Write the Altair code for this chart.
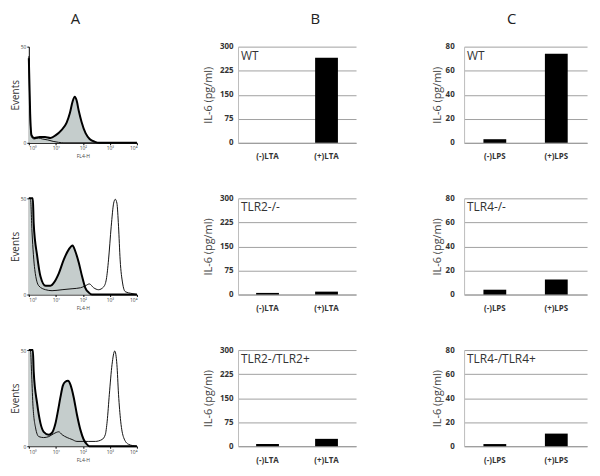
import altair as alt
import pandas as pd

# ---------------- data ----------------
headers = ["A", "B", "C"]

# Column A: flow cytometry histograms (x in decades, 10^0..10^4; y in % of full scale)
A1_fill_x = [0.0, 0.05, 0.1, 0.2, 0.4, 0.6, 0.8, 1.0, 1.2, 1.4, 1.52, 1.62, 1.7, 1.77, 1.85, 1.95, 2.1, 2.25, 2.45, 2.6, 4.0]
A1_fill_y = [88, 30, 8, 5, 6, 6, 5, 8, 13, 21, 31, 43, 48, 44, 33, 22, 10, 4, 1, 0, 0]
A1_open_x = [0.0, 0.05, 0.1, 0.2, 0.35, 0.5, 0.7, 0.9, 1.1, 1.3, 4.0]
A1_open_y = [90, 25, 6, 4, 5, 4, 3, 1.5, 0.5, 0, 0]

A2_fill_x = [0.0, 0.15, 0.18, 0.31, 0.43, 0.62, 0.8, 0.92, 1.11, 1.29, 1.48, 1.62, 1.72, 1.85, 1.97, 2.09, 2.22, 2.34, 4.0]
A2_fill_y = [100, 100, 74, 40, 19, 9, 9, 12, 22, 36, 47, 51, 45, 33, 19, 7, 2, 0, 0]
A2_open_x = [0.0, 0.06, 0.12, 0.22, 0.37, 0.62, 0.86, 1.23, 1.6, 1.91, 2.09, 2.24, 2.4, 2.58, 2.77, 2.87, 2.95, 3.05, 3.14, 3.2, 3.26, 3.32, 3.38, 3.47, 3.57, 3.82, 4.0]
A2_open_y = [100, 100, 64, 26, 9, 5, 4, 5, 6, 7, 9, 11, 7, 5, 8, 16, 36, 71, 95, 99, 95, 71, 36, 12, 3, 1, 0]

A3_fill_x = [0.0, 0.15, 0.18, 0.31, 0.43, 0.55, 0.74, 0.86, 0.98, 1.08, 1.17, 1.26, 1.35, 1.45, 1.54, 1.66, 1.78, 1.91, 2.03, 2.15, 2.24, 4.0]
A3_fill_y = [100, 100, 78, 44, 24, 15, 12, 14, 23, 37, 51, 63, 67, 68, 64, 51, 33, 17, 7, 2, 0, 0]
A3_open_x = [0.0, 0.06, 0.1, 0.15, 0.25, 0.37, 0.55, 0.74, 0.92, 1.11, 1.23, 1.42, 1.6, 1.78, 1.97, 2.22, 2.46, 2.71, 2.83, 2.9, 2.98, 3.08, 3.18, 3.26, 3.32, 3.4, 3.51, 3.69, 4.0]
A3_open_y = [100, 100, 78, 44, 19, 10, 9, 10, 13, 15, 12, 9, 7, 5, 5, 5, 5, 7, 12, 26, 54, 85, 99, 85, 54, 26, 9, 2, 0]

decade_labels = ["10⁰", "10¹", "10²", "10³", "10⁴"]

# Column B: IL-6 with LTA
lta_categories = ["(-)LTA", "(+)LTA"]
B_labels = ["WT", "TLR2-/-", "TLR2-/TLR2+"]
B_values = [[0, 265], [5, 9], [7, 23]]
B_ticks = [0, 75, 150, 225, 300]

# Column C: IL-6 with LPS
lps_categories = ["(-)LPS", "(+)LPS"]
C_labels = ["WT", "TLR4-/-", "TLR4-/TLR4+"]
C_values = [[3, 74], [4, 12.5], [1.8, 10.5]]
C_ticks = [0, 20, 40, 60, 80]

FONT = "Open Sans"
H = 97
label_expr = "[" + ",".join("'%s'" % s for s in decade_labels) + "][datum.value]"


def header_layer(text, xpos):
    return alt.Chart(pd.DataFrame({"t": [text]})).mark_text(
        font=FONT, fontSize=15, color="#222", align="center", baseline="middle"
    ).encode(text="t:N", x=alt.value(xpos), y=alt.value(-28))


def hist_panel(fx, fy, ox, oy, header=None):
    df = pd.concat([
        pd.DataFrame({"x": fx, "y": fy, "curve": "fill"}),
        pd.DataFrame({"x": ox, "y": oy, "curve": "open"}),
    ])
    base = alt.Chart(df).encode(
        x=alt.X("x:Q", scale=alt.Scale(domain=[0, 4], nice=False, zero=False),
                axis=alt.Axis(values=[0, 1, 2, 3, 4], labelExpr=label_expr,
                              title="FL4-H", titleFontSize=5, titleFontWeight="normal",
                              titleColor="#444", labelFontSize=5, labelColor="#444",
                              grid=False, domainColor="black", tickColor="black",
                              tickSize=2, labelPadding=1, titlePadding=3)),
        y=alt.Y("y:Q", scale=alt.Scale(domain=[0, 100], nice=False),
                axis=alt.Axis(values=[0, 100],
                              labelExpr="datum.value == 0 ? '0' : '50'",
                              title="Events", titleFontSize=10, titleFontWeight="normal",
                              titleColor="#333", labelFontSize=5, labelColor="#444",
                              grid=False, domainColor="black", tickColor="black",
                              tickSize=2, labelPadding=1, titlePadding=0)),
    )
    area = base.transform_filter(alt.datum.curve == "fill").mark_area(
        color="#c5cdcc", interpolate="monotone")
    open_line = base.transform_filter(alt.datum.curve == "open").mark_line(
        color="#111", strokeWidth=1, interpolate="monotone")
    fill_line = base.transform_filter(alt.datum.curve == "fill").mark_line(
        color="#000", strokeWidth=2, interpolate="monotone")
    layers = [area, open_line, fill_line]
    if header:
        layers.append(header_layer(header, 47))
    return alt.layer(*layers).properties(width=109, height=H)


def bar_panel(cats, vals, label, ticks, width, label_pad, title_pad, header=None, header_x=0):
    df = pd.DataFrame({"cat": cats, "val": vals})
    bars = alt.Chart(df).mark_bar(color="#000", size=23).encode(
        x=alt.X("cat:N", sort=cats,
                scale=alt.Scale(paddingInner=0, paddingOuter=0),
                axis=alt.Axis(title=None, labelAngle=0, labelFontWeight="bold",
                              labelFontSize=8, labelColor="#333", labelPadding=10,
                              ticks=False, domainColor="#999", grid=False)),
        y=alt.Y("val:Q", scale=alt.Scale(domain=[ticks[0], ticks[-1]], nice=False),
                axis=alt.Axis(values=ticks, title="IL-6 (pg/ml)", grid=True,
                              gridColor="#a0a0a0", ticks=False, domainColor="#bbb",
                              labelFontWeight="bold", labelFontSize=8, labelColor="#333",
                              labelPadding=label_pad, titlePadding=title_pad,
                              titleFontWeight="normal", titleFontSize=11, titleColor="#444")),
    )
    txt = alt.Chart(pd.DataFrame({"t": [label]})).mark_text(
        font=FONT, fontSize=12, color="#333", align="left", baseline="middle"
    ).encode(text="t:N", x=alt.value(3), y=alt.value(9))
    layers = [bars, txt]
    if header:
        layers.append(header_layer(header, header_x))
    return alt.layer(*layers).properties(width=width, height=H)


colA = alt.vconcat(
    hist_panel(A1_fill_x, A1_fill_y, A1_open_x, A1_open_y, headers[0]),
    hist_panel(A2_fill_x, A2_fill_y, A2_open_x, A2_open_y),
    hist_panel(A3_fill_x, A3_fill_y, A3_open_x, A3_open_y),
    spacing=36,
)

colB = alt.vconcat(
    *[bar_panel(lta_categories, B_values[i], B_labels[i], B_ticks, 119, 5, 6,
                headers[1] if i == 0 else None, 78) for i in range(3)],
    spacing=34,
)

colC = alt.vconcat(
    *[bar_panel(lps_categories, C_values[i], C_labels[i], C_ticks, 124, 10, 3,
                headers[2] if i == 0 else None, 48) for i in range(3)],
    spacing=34,
)

chart = alt.hconcat(
    alt.hconcat(colA, colB, spacing=62),
    colC, spacing=75,
).properties(
    padding={"left": 2, "top": 2, "right": 5, "bottom": 3}
).configure(font=FONT).configure_view(stroke=None)

chart.save("out.html", embed_options={"renderer": "svg", "actions": False})
